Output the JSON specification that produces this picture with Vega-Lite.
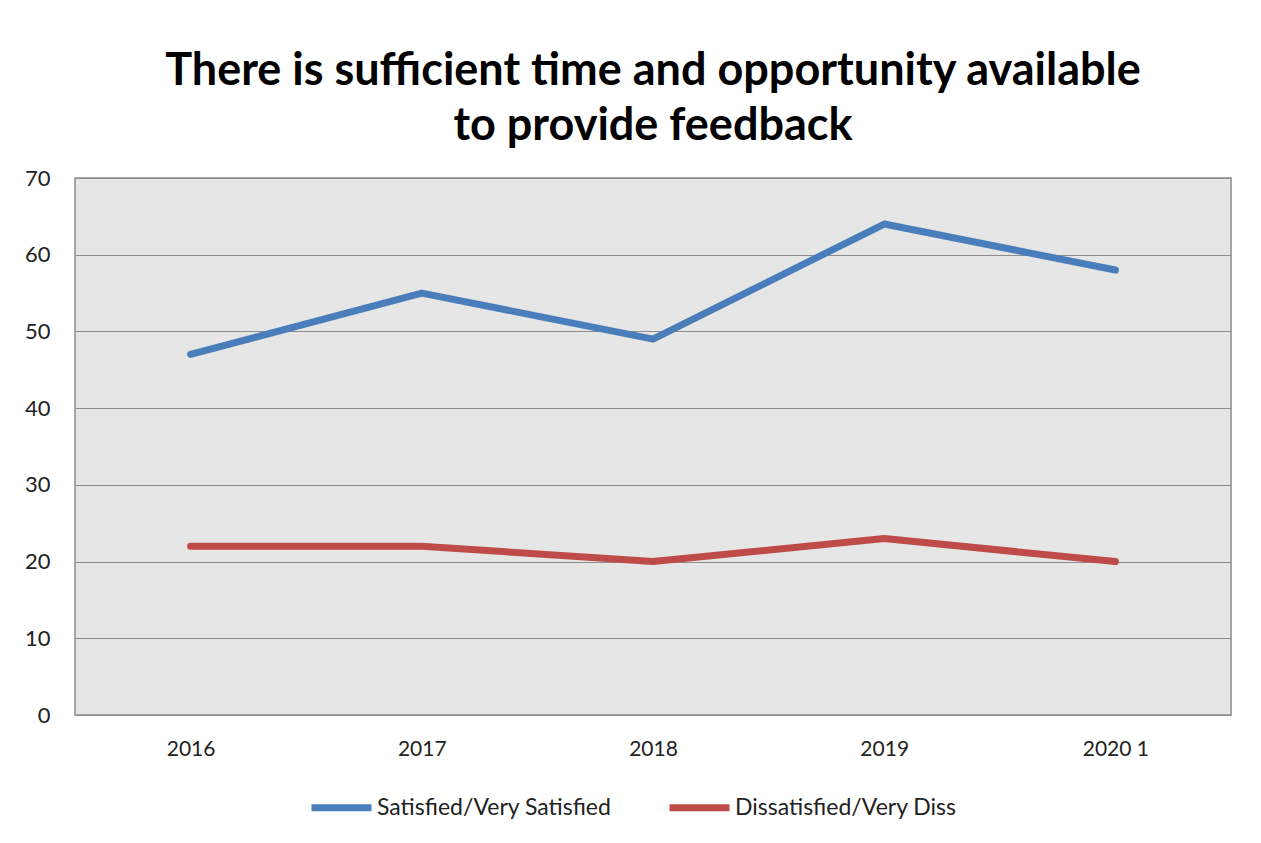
{
  "$schema": "https://vega.github.io/schema/vega-lite/v6.json",
  "width": 1156,
  "height": 537,
  "autosize": "none",
  "padding": {"left": 75, "top": 178, "right": 30, "bottom": 128},
  "background": "white",
  "title": {
    "text": ["There is sufficient time and opportunity available", "to provide feedback"],
    "font": "Lato",
    "fontSize": 45,
    "fontWeight": "bold",
    "color": "#000000",
    "lineHeight": 55,
    "anchor": "middle",
    "offset": 18
  },
  "data": {
    "values": [
      {"year": "2016", "series": "Satisfied/Very Satisfied", "value": 47},
      {"year": "2017", "series": "Satisfied/Very Satisfied", "value": 55},
      {"year": "2018", "series": "Satisfied/Very Satisfied", "value": 49},
      {"year": "2019", "series": "Satisfied/Very Satisfied", "value": 64},
      {"year": "2020 1", "series": "Satisfied/Very Satisfied", "value": 58},
      {"year": "2016", "series": "Dissatisfied/Very Diss", "value": 22},
      {"year": "2017", "series": "Dissatisfied/Very Diss", "value": 22},
      {"year": "2018", "series": "Dissatisfied/Very Diss", "value": 20},
      {"year": "2019", "series": "Dissatisfied/Very Diss", "value": 23},
      {"year": "2020 1", "series": "Dissatisfied/Very Diss", "value": 20}
    ]
  },
  "mark": {"type": "line", "strokeWidth": 7, "strokeCap": "round", "strokeJoin": "round"},
  "encoding": {
    "x": {
      "field": "year", "type": "ordinal",
      "scale": {"type": "point", "padding": 0.5},
      "axis": {"title": null, "labelAngle": 0, "ticks": false, "domain": false, "labelPadding": 23, "labelFontSize": 21, "labelFont": "Lato", "labelColor": "#222222", "grid": false}
    },
    "y": {
      "field": "value", "type": "quantitative",
      "scale": {"domain": [0, 70], "nice": false},
      "axis": {"title": null, "values": [0,10,20,30,40,50,60,70], "ticks": false, "domain": false, "labelPadding": 25, "labelFontSize": 22, "labelFont": "Lato", "labelColor": "#222222", "gridColor": "#8c8c8c", "gridWidth": 1, "gridOpacity": 1}
    },
    "color": {
      "field": "series", "type": "nominal",
      "scale": {"domain": ["Satisfied/Very Satisfied", "Dissatisfied/Very Diss"], "range": ["#4a7ebb", "#be4b48"]},
      "legend": {
        "orient": "none", "legendX": 233, "legendY": 596, "direction": "horizontal", "title": null,
        "symbolType": "stroke", "symbolSize": 3600, "symbolStrokeWidth": 7,
        "labelFontSize": 23, "labelFont": "Lato", "labelColor": "#222222", "labelLimit": 400,
        "columnPadding": 43, "labelOffset": 2
      }
    }
  },
  "config": {
    "view": {"fill": "#e6e6e6", "stroke": "#8c8c8c", "strokeWidth": 1.5}
  }
}
